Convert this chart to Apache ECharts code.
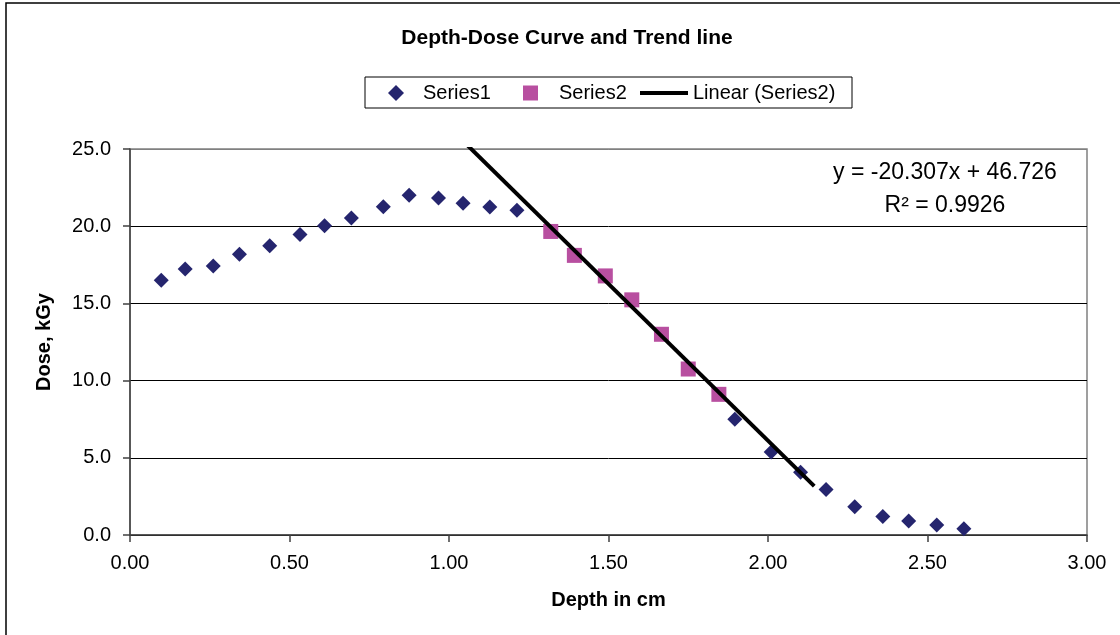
<!DOCTYPE html>
<html>
<head>
<meta charset="utf-8">
<script src="https://cdn.jsdelivr.net/npm/echarts@6/dist/echarts.min.js"></script>
<style>
html,body{margin:0;padding:0;background:#fff;}
#c{width:1120px;height:635px;}
</style>
</head>
<body>
<div id="c"></div>
<script>
// ---- data ----
var s1x = [0.098, 0.173, 0.261, 0.343, 0.438, 0.533, 0.610, 0.694, 0.794, 0.875, 0.967, 1.044, 1.128, 1.213,
           1.896, 2.010, 2.102, 2.182, 2.272, 2.360, 2.441, 2.529, 2.614];
var s1y = [16.50, 17.22, 17.43, 18.19, 18.73, 19.47, 20.03, 20.53, 21.26, 22.00, 21.82, 21.48, 21.24, 21.04,
           7.49, 5.37, 4.07, 2.95, 1.83, 1.20, 0.90, 0.64, 0.40];
var s2x = [1.319, 1.393, 1.490, 1.573, 1.666, 1.750, 1.846];
var s2y = [19.66, 18.11, 16.78, 15.23, 13.00, 10.75, 9.11];
var trendX = [1.02, 2.145];
var trendY = [26.01, 3.17];
var xTicks = ['0.00','0.50','1.00','1.50','2.00','2.50','3.00'];
var yTicks = ['0.0','5.0','10.0','15.0','20.0','25.0'];
var seriesNames = ['Series1', 'Series2', 'Linear (Series2)'];
var titleText = 'Depth-Dose Curve and Trend line';
var eqText = 'y = -20.307x + 46.726';
var r2Text = 'R\u00B2 = 0.9926';
var xName = 'Depth in cm';
var yName = 'Dose, kGy';

function zip(a, b) { return a.map(function (v, i) { return [v, b[i]]; }); }

var FONT = '"Liberation Sans", Arial, sans-serif';
var legendText = { fontFamily: FONT, fontSize: 20, color: '#000' };
var chart = echarts.init(document.getElementById('c'));
chart.setOption({
  animation: false,
  backgroundColor: '#fff',
  textStyle: { fontFamily: FONT },
  graphic: [{
    type: 'rect', silent: true,
    shape: { x: 6, y: 3, width: 1200, height: 700 },
    style: { fill: 'none', stroke: '#000', lineWidth: 1.5 }
  }, {
    type: 'rect', silent: true,
    shape: { x: 365, y: 77, width: 487, height: 31 },
    style: { fill: 'none', stroke: '#000', lineWidth: 1 }
  }],
  title: [{
    text: titleText,
    left: 567, top: 28, textAlign: 'center', padding: 0,
    textStyle: { fontFamily: FONT, fontSize: 21, fontWeight: 'bold', color: '#000' }
  }, {
    text: eqText + '\n' + r2Text,
    left: 945, top: 156, textAlign: 'center', padding: 0,
    textStyle: { fontFamily: FONT, fontSize: 23, fontWeight: 'normal', color: '#000', lineHeight: 33 }
  }],
  legend: [{
    left: 388, top: 83, padding: 0,
    itemWidth: 16, itemHeight: 16,
    textStyle: Object.assign({ padding: [0, 0, 0, 14] }, legendText),
    data: [{ name: seriesNames[0], icon: 'diamond' }]
  }, {
    left: 523, top: 83, padding: 0,
    itemWidth: 15, itemHeight: 15,
    textStyle: Object.assign({ padding: [0, 0, 0, 16] }, legendText),
    data: [{ name: seriesNames[1], icon: 'rect' }]
  }, {
    left: 640, top: 83, padding: 0,
    itemWidth: 48, itemHeight: 14,
    textStyle: legendText,
    data: [{ name: seriesNames[2], icon: 'path://M0,0L48,0L48,4L0,4Z' }]
  }],
  grid: {
    left: 130, right: 33, top: 149, bottom: 100,
    show: true, borderColor: '#808080', borderWidth: 1.5, backgroundColor: '#fff'
  },
  xAxis: {
    type: 'value', min: 0, max: 3, interval: 0.5,
    name: xName, nameLocation: 'middle', nameGap: 55,
    nameTextStyle: { fontFamily: FONT, fontSize: 20, fontWeight: 'bold', color: '#000' },
    axisLine: { show: true, onZero: false, lineStyle: { color: '#404040', width: 1.5 } },
    axisTick: { show: true, inside: false, length: 7, lineStyle: { color: '#404040', width: 1.5 } },
    axisLabel: { margin: 18, fontFamily: FONT, fontSize: 20, color: '#000',
      formatter: function (v) { return xTicks[Math.round(v / 0.5)]; } },
    splitLine: { show: false }
  },
  yAxis: {
    type: 'value', min: 0, max: 25, interval: 5,
    name: yName, nameLocation: 'middle', nameGap: 76, nameRotate: 90,
    nameTextStyle: { fontFamily: FONT, fontSize: 20, fontWeight: 'bold', color: '#000' },
    axisLine: { show: true, onZero: false, lineStyle: { color: '#404040', width: 1.5 } },
    axisTick: { show: true, inside: false, length: 7, lineStyle: { color: '#404040', width: 1.5 } },
    axisLabel: { margin: 19, fontFamily: FONT, fontSize: 20, color: '#000',
      formatter: function (v) { return yTicks[Math.round(v / 5)]; } },
    splitLine: { show: true, lineStyle: { color: ['#000', '#000', '#000', '#000', '#000', '#808080'], width: 1 } }
  },
  series: [{
    name: seriesNames[0], type: 'scatter',
    symbol: 'diamond', symbolSize: 15,
    itemStyle: { color: '#25256e', opacity: 1 },
    data: zip(s1x, s1y), z: 3
  }, {
    name: seriesNames[1], type: 'scatter',
    symbol: 'rect', symbolSize: 15,
    itemStyle: { color: '#b84fa0', opacity: 1 },
    data: zip(s2x, s2y), z: 4
  }, {
    name: seriesNames[2], type: 'line',
    symbol: 'none', clip: true,
    lineStyle: { color: '#000', width: 4 },
    itemStyle: { color: '#000' },
    data: zip(trendX, trendY), z: 5
  }]
});
</script>
</body>
</html>
